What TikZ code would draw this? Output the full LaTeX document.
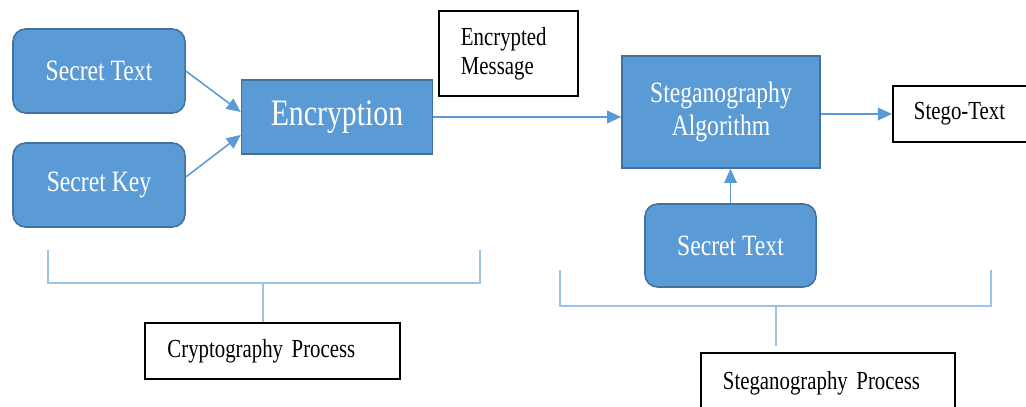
\documentclass[tikz,border=0pt]{standalone}
\usepackage{fontspec}
\setmainfont{Liberation Serif}[FakeStretch=0.8]
\usetikzlibrary{arrows.meta,calc}
\definecolor{boxblue}{HTML}{5B9BD5}
\definecolor{boxedge}{HTML}{41719C}
\definecolor{arrowblue}{HTML}{5B9BD5}
\definecolor{bracketblue}{HTML}{9DC3E6}
\tikzset{
  inround/.style={shape=rectangle,rounded corners=9pt,draw=boxedge,fill=boxblue,line width=1.1pt,
    text=white,minimum width=4.3cm,minimum height=2.1cm,font=\fontsize{21}{25}\selectfont},
  stagebox/.style={shape=rectangle,draw=boxedge,fill=boxblue,line width=1.1pt,text=white,
    align=center,font=\fontsize{21}{24}\selectfont},
  labelbox/.style={shape=rectangle,draw=black,fill=white,line width=1.4pt,align=left,
    inner xsep=0.55cm,font=\fontsize{18.5}{20.5}\selectfont},
  flow/.style={draw=arrowblue,line width=1.1pt,-{Triangle[length=10pt,width=9pt,fill=arrowblue]}},
  bracket/.style={draw=bracketblue,line width=1.1pt}
}
\begin{document}
\begin{tikzpicture}[x=0.025cm,y=-0.025cm]
  \useasboundingbox (0,0) rectangle (1026,407);

  % cryptography side
  \node[inround] (sectext) at (99,71) {Secret Text};
  \node[inround] (seckey) at (99,185) {Secret Key};
  \node[stagebox,minimum width=4.775cm,minimum height=1.85cm,font=\fontsize{26.5}{30}\selectfont] (enc) at (337,117) {Encryption};
  \node[labelbox,text width=2.375cm,minimum height=2.125cm] (encmsg) at (508.5,53.5) {Encrypted\\Message};

  % steganography side
  \node[stagebox,minimum width=4.95cm,minimum height=2.8cm] (steg) at (721,112) {Steganography\\Algorithm};
  \node[labelbox,inner xsep=0.525cm,text width=2.6cm,minimum height=1.4cm] (stegout) at (966,114) {Stego-Text};
  \node[inround,minimum width=4.275cm,minimum height=2.075cm] (covtext) at (730.5,245.5) {Secret Text};

  \draw[flow] (sectext.east) -- ($(enc.west)+(0,-5)$);
  \draw[flow] ($(seckey.east)+(0,-8)$) -- ($(enc.west)+(0,18)$);
  \draw[flow] (enc.east) -- (enc.east -| steg.west);
  \draw[flow] (stegout.west -| steg.east) -- (stegout.west);
  \draw[flow] (covtext.north) -- (covtext.north |- steg.south);

  % process brackets
  \node[labelbox,text width=5.25cm,minimum height=1.4cm] (cryptproc) at (272.5,351) {Cryptography Process};
  \node[labelbox,text width=5.25cm,minimum height=1.5cm] (stegproc) at (828,383) {Steganography Process};
  \coordinate (lmid) at (263,283);
  \coordinate (rmid) at (776,306);
  \draw[bracket] (48,250) |- (480,283) -- (480,250);
  \draw[bracket] (lmid) -- (lmid |- cryptproc.north);
  \draw[bracket] (560,270) |- (991,306) -- (991,270);
  \draw[bracket] (rmid) -- ($(rmid |- stegproc.north)+(0,-6)$);
\end{tikzpicture}
\end{document}
